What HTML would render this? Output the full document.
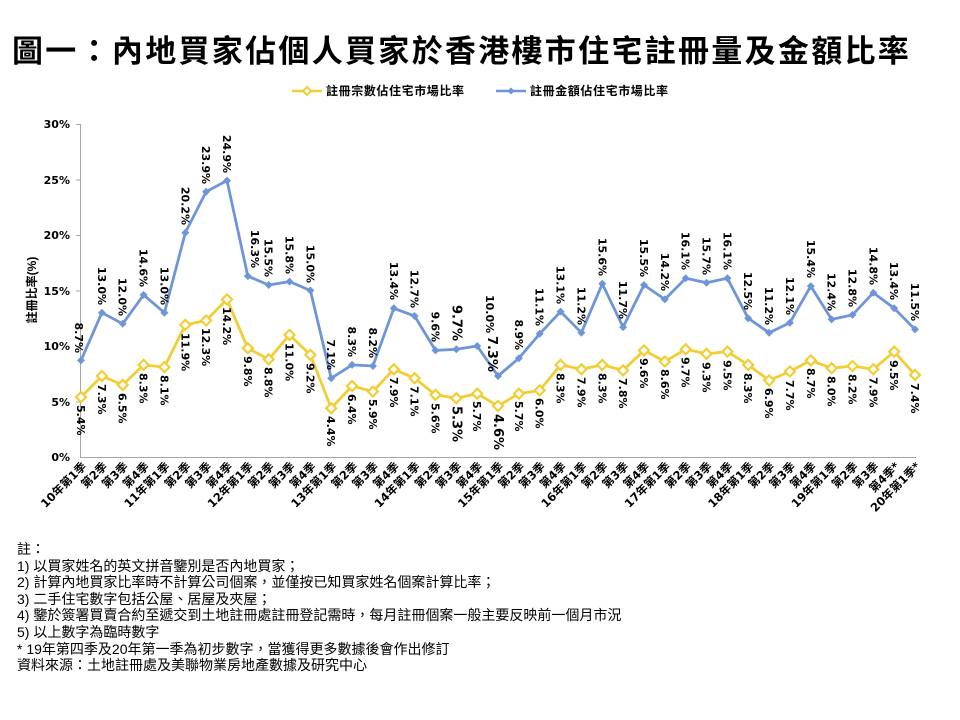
<!DOCTYPE html>
<html><head><meta charset="utf-8"><style>
body{margin:0;background:#fff;width:960px;height:720px;overflow:hidden;font-family:"Liberation Sans","Noto Sans CJK TC",sans-serif;}
.t{position:absolute;left:12px;top:26px;font-size:31px;font-weight:bold;letter-spacing:2.3px;white-space:nowrap;color:#000;font-family:"Liberation Sans","Noto Sans CJK TC",sans-serif;}
.n{position:absolute;left:17px;top:541px;font-size:14px;line-height:16.6px;color:#000;white-space:nowrap;}
svg{position:absolute;left:0;top:0}
.d{font-family:"DejaVu Sans","Noto Sans CJK TC",sans-serif;}
</style></head><body>
<div class="t">圖一：內地買家佔個人買家於香港樓市住宅註冊量及金額比率</div>
<svg width="960" height="720" font-family="Liberation Sans, Noto Sans CJK TC, sans-serif">
<defs>
<marker id="my" markerUnits="userSpaceOnUse" markerWidth="14" markerHeight="14" refX="7" refY="7"><path d="M7 2 L12 7 L7 12 L2 7Z" fill="#fff" stroke="#F2CD34" stroke-width="2.2"/></marker>
<marker id="mb" markerUnits="userSpaceOnUse" markerWidth="12" markerHeight="12" refX="6" refY="6"><path d="M6 2 L10 6 L6 10 L2 6Z" fill="#6F95D9"/></marker>
</defs>
<line x1="292" y1="91" x2="322" y2="91" stroke="#F2CD34" stroke-width="2.5"/><path d="M307 87 L311 91 L307 95 L303 91Z" fill="#fff" stroke="#F2CD34" stroke-width="2"/>
<text x="326" y="95" font-size="12" font-weight="bold" letter-spacing="0.6">註冊宗數佔住宅市場比率</text>
<line x1="496" y1="91" x2="526" y2="91" stroke="#6F95D9" stroke-width="2.5"/><path d="M511 87.5 L514.5 91 L511 94.5 L507.5 91Z" fill="#6F95D9"/>
<text x="530" y="95" font-size="12" font-weight="bold" letter-spacing="0.6">註冊金額佔住宅市場比率</text>
<g stroke="#A6A6A6" stroke-width="1">
<line x1="80.5" y1="124" x2="80.5" y2="457"/><line x1="80" y1="457.5" x2="916" y2="457.5"/>
<line x1="76" y1="124.5" x2="80" y2="124.5"/><line x1="76" y1="180" x2="80" y2="180"/><line x1="76" y1="235.5" x2="80" y2="235.5"/><line x1="76" y1="291" x2="80" y2="291"/><line x1="76" y1="346.5" x2="80" y2="346.5"/><line x1="76" y1="402" x2="80" y2="402"/>
</g>
<g class="d" font-size="11" font-weight="bold" text-anchor="end">
<text x="70" y="128">30%</text><text x="70" y="184">25%</text><text x="70" y="239">20%</text><text x="70" y="295">15%</text><text x="70" y="350">10%</text><text x="70" y="406">5%</text><text x="70" y="461">0%</text>
</g>
<text transform="translate(36,290) rotate(-90)" font-size="12" font-weight="bold" text-anchor="middle">註冊比率(%)</text>
<polyline fill="none" stroke="#6F95D9" stroke-width="2.8" stroke-linejoin="round" marker-start="url(#mb)" marker-mid="url(#mb)" marker-end="url(#mb)" points="81,360.4 101.9,312.7 122.7,323.8 143.6,294.9 164.4,312.7 185.3,232.8 206.1,191.7 227,180.6 247.8,276.1 268.7,285 289.5,281.6 310.4,290.5 331.2,378.2 352.1,364.9 372.9,366 393.8,308.3 414.6,316 435.5,350.4 456.3,349.3 477.2,346 498,376 518.9,358.2 539.7,333.8 560.6,311.6 581.4,332.7 602.3,283.8 623.1,327.1 644,285 664.8,299.4 685.7,278.3 706.5,282.7 727.4,278.3 748.2,318.3 769.1,332.7 789.9,322.7 810.8,286.1 831.6,319.4 852.5,314.9 873.3,292.7 894.2,308.3 915,329.4"/>
<polyline fill="none" stroke="#F2CD34" stroke-width="2.8" stroke-linejoin="round" marker-start="url(#my)" marker-mid="url(#my)" marker-end="url(#my)" points="81,397.1 101.9,376 122.7,384.9 143.6,364.9 164.4,367.1 185.3,324.9 206.1,320.5 227,299.4 247.8,348.2 268.7,359.3 289.5,334.9 310.4,354.9 331.2,408.2 352.1,386 372.9,391.5 393.8,369.3 414.6,378.2 435.5,394.8 456.3,398.2 477.2,393.7 498,405.9 518.9,393.7 539.7,390.4 560.6,364.9 581.4,369.3 602.3,364.9 623.1,370.4 644,350.4 664.8,361.5 685.7,349.3 706.5,353.8 727.4,351.6 748.2,364.9 769.1,380.4 789.9,371.5 810.8,360.4 831.6,368.2 852.5,366 873.3,369.3 894.2,351.6 915,374.9"/>
<g class="d" font-size="11" font-weight="bold" text-anchor="end">
<text transform="translate(75,353) rotate(90)">8.7%</text>
<text transform="translate(97.9,305) rotate(90)">13.0%</text>
<text transform="translate(118.7,316) rotate(90)">12.0%</text>
<text transform="translate(139.6,287) rotate(90)">14.6%</text>
<text transform="translate(160.4,305) rotate(90)">13.0%</text>
<text transform="translate(181.3,225) rotate(90)">20.2%</text>
<text transform="translate(202.1,184) rotate(90)">23.9%</text>
<text transform="translate(223,173) rotate(90)">24.9%</text>
<text transform="translate(251,268) rotate(90)">16.3%</text>
<text transform="translate(264.7,277) rotate(90)">15.5%</text>
<text transform="translate(285.5,274) rotate(90)">15.8%</text>
<text transform="translate(306.4,283) rotate(90)">15.0%</text>
<text transform="translate(327.2,370) rotate(90)">7.1%</text>
<text transform="translate(348.1,357) rotate(90)">8.3%</text>
<text transform="translate(368.9,358) rotate(90)">8.2%</text>
<text transform="translate(389.8,300) rotate(90)">13.4%</text>
<text transform="translate(410.6,308) rotate(90)">12.7%</text>
<text transform="translate(431.5,342) rotate(90)">9.6%</text>
<text transform="translate(452.3,341) rotate(90)" font-size="13">9.7%</text>
<text transform="translate(486,295) rotate(90)" text-anchor="start">10.0%</text>
<text transform="translate(488,372) rotate(90)" font-size="13">7.3%</text>
<text transform="translate(514.9,350) rotate(90)">8.9%</text>
<text transform="translate(535.7,326) rotate(90)">11.1%</text>
<text transform="translate(556.6,304) rotate(90)">13.1%</text>
<text transform="translate(577.4,325) rotate(90)">11.2%</text>
<text transform="translate(598.3,276) rotate(90)">15.6%</text>
<text transform="translate(619.1,319) rotate(90)">11.7%</text>
<text transform="translate(640,277) rotate(90)">15.5%</text>
<text transform="translate(660.8,291) rotate(90)">14.2%</text>
<text transform="translate(681.7,270) rotate(90)">16.1%</text>
<text transform="translate(702.5,275) rotate(90)">15.7%</text>
<text transform="translate(723.4,270) rotate(90)">16.1%</text>
<text transform="translate(744.2,310) rotate(90)">12.5%</text>
<text transform="translate(765.1,325) rotate(90)">11.2%</text>
<text transform="translate(785.9,315) rotate(90)">12.1%</text>
<text transform="translate(806.8,278) rotate(90)">15.4%</text>
<text transform="translate(827.6,311) rotate(90)">12.4%</text>
<text transform="translate(848.5,307) rotate(90)">12.8%</text>
<text transform="translate(869.3,285) rotate(90)">14.8%</text>
<text transform="translate(890.2,300) rotate(90)">13.4%</text>
<text transform="translate(911,321) rotate(90)">11.5%</text>
</g>
<g class="d" font-size="11" font-weight="bold">
<text transform="translate(77,405) rotate(90)">5.4%</text>
<text transform="translate(97.9,384) rotate(90)">7.3%</text>
<text transform="translate(118.7,393) rotate(90)">6.5%</text>
<text transform="translate(139.6,373) rotate(90)">8.3%</text>
<text transform="translate(160.4,375) rotate(90)">8.1%</text>
<text transform="translate(181.3,333) rotate(90)">11.9%</text>
<text transform="translate(202.1,328) rotate(90)">12.3%</text>
<text transform="translate(223,307) rotate(90)">14.2%</text>
<text transform="translate(243.8,356) rotate(90)">9.8%</text>
<text transform="translate(264.7,367) rotate(90)">8.8%</text>
<text transform="translate(285.5,343) rotate(90)">11.0%</text>
<text transform="translate(306.4,363) rotate(90)">9.2%</text>
<text transform="translate(327.2,416) rotate(90)">4.4%</text>
<text transform="translate(348.1,394) rotate(90)">6.4%</text>
<text transform="translate(368.9,399) rotate(90)">5.9%</text>
<text transform="translate(389.8,377) rotate(90)">7.9%</text>
<text transform="translate(410.6,386) rotate(90)">7.1%</text>
<text transform="translate(431.5,403) rotate(90)">5.6%</text>
<text transform="translate(452.3,406) rotate(90)" font-size="13">5.3%</text>
<text transform="translate(473.2,401) rotate(90)">5.7%</text>
<text transform="translate(494,414) rotate(90)" font-size="13">4.6%</text>
<text transform="translate(514.9,401) rotate(90)">5.7%</text>
<text transform="translate(535.7,398) rotate(90)">6.0%</text>
<text transform="translate(556.6,373) rotate(90)">8.3%</text>
<text transform="translate(577.4,377) rotate(90)">7.9%</text>
<text transform="translate(598.3,373) rotate(90)">8.3%</text>
<text transform="translate(619.1,378) rotate(90)">7.8%</text>
<text transform="translate(640,358) rotate(90)">9.6%</text>
<text transform="translate(660.8,369) rotate(90)">8.6%</text>
<text transform="translate(681.7,357) rotate(90)">9.7%</text>
<text transform="translate(702.5,362) rotate(90)">9.3%</text>
<text transform="translate(723.4,360) rotate(90)">9.5%</text>
<text transform="translate(744.2,373) rotate(90)">8.3%</text>
<text transform="translate(765.1,388) rotate(90)">6.9%</text>
<text transform="translate(785.9,380) rotate(90)">7.7%</text>
<text transform="translate(806.8,368) rotate(90)">8.7%</text>
<text transform="translate(827.6,376) rotate(90)">8.0%</text>
<text transform="translate(848.5,374) rotate(90)">8.2%</text>
<text transform="translate(869.3,377) rotate(90)">7.9%</text>
<text transform="translate(890.2,360) rotate(90)">9.5%</text>
<text transform="translate(911,383) rotate(90)">7.4%</text>
</g>
<g class="d" font-size="11.5" font-weight="bold" text-anchor="end">
<text transform="translate(87,467) rotate(-45)">10年第1季</text>
<text transform="translate(107.9,467) rotate(-45)">第2季</text>
<text transform="translate(128.7,467) rotate(-45)">第3季</text>
<text transform="translate(149.6,467) rotate(-45)">第4季</text>
<text transform="translate(170.4,467) rotate(-45)">11年第1季</text>
<text transform="translate(191.3,467) rotate(-45)">第2季</text>
<text transform="translate(212.1,467) rotate(-45)">第3季</text>
<text transform="translate(233,467) rotate(-45)">第4季</text>
<text transform="translate(253.8,467) rotate(-45)">12年第1季</text>
<text transform="translate(274.7,467) rotate(-45)">第2季</text>
<text transform="translate(295.5,467) rotate(-45)">第3季</text>
<text transform="translate(316.4,467) rotate(-45)">第4季</text>
<text transform="translate(337.2,467) rotate(-45)">13年第1季</text>
<text transform="translate(358.1,467) rotate(-45)">第2季</text>
<text transform="translate(378.9,467) rotate(-45)">第3季</text>
<text transform="translate(399.8,467) rotate(-45)">第4季</text>
<text transform="translate(420.6,467) rotate(-45)">14年第1季</text>
<text transform="translate(441.5,467) rotate(-45)">第2季</text>
<text transform="translate(462.3,467) rotate(-45)">第3季</text>
<text transform="translate(483.2,467) rotate(-45)">第4季</text>
<text transform="translate(504,467) rotate(-45)">15年第1季</text>
<text transform="translate(524.9,467) rotate(-45)">第2季</text>
<text transform="translate(545.7,467) rotate(-45)">第3季</text>
<text transform="translate(566.6,467) rotate(-45)">第4季</text>
<text transform="translate(587.4,467) rotate(-45)">16年第1季</text>
<text transform="translate(608.3,467) rotate(-45)">第2季</text>
<text transform="translate(629.1,467) rotate(-45)">第3季</text>
<text transform="translate(650,467) rotate(-45)">第4季</text>
<text transform="translate(670.8,467) rotate(-45)">17年第1季</text>
<text transform="translate(691.7,467) rotate(-45)">第2季</text>
<text transform="translate(712.5,467) rotate(-45)">第3季</text>
<text transform="translate(733.4,467) rotate(-45)">第4季</text>
<text transform="translate(754.2,467) rotate(-45)">18年第1季</text>
<text transform="translate(775.1,467) rotate(-45)">第2季</text>
<text transform="translate(795.9,467) rotate(-45)">第3季</text>
<text transform="translate(816.8,467) rotate(-45)">第4季</text>
<text transform="translate(837.6,467) rotate(-45)">19年第1季</text>
<text transform="translate(858.5,467) rotate(-45)">第2季</text>
<text transform="translate(879.3,467) rotate(-45)">第3季</text>
<text transform="translate(900.2,467) rotate(-45)">第4季*</text>
<text transform="translate(921,467) rotate(-45)">20年第1季*</text>
</g>
</svg>
<div class="n">註：<br>1) 以買家姓名的英文拼音鑒別是否內地買家；<br>2) 計算內地買家比率時不計算公司個案，並僅按已知買家姓名個案計算比率；<br>3) 二手住宅數字包括公屋、居屋及夾屋；<br>4) 鑒於簽署買賣合約至遞交到土地註冊處註冊登記需時，每月註冊個案一般主要反映前一個月市況<br>5) 以上數字為臨時數字<br>* 19年第四季及20年第一季為初步數字，當獲得更多數據後會作出修訂<br>資料來源：土地註冊處及美聯物業房地產數據及研究中心</div>
</body></html>
